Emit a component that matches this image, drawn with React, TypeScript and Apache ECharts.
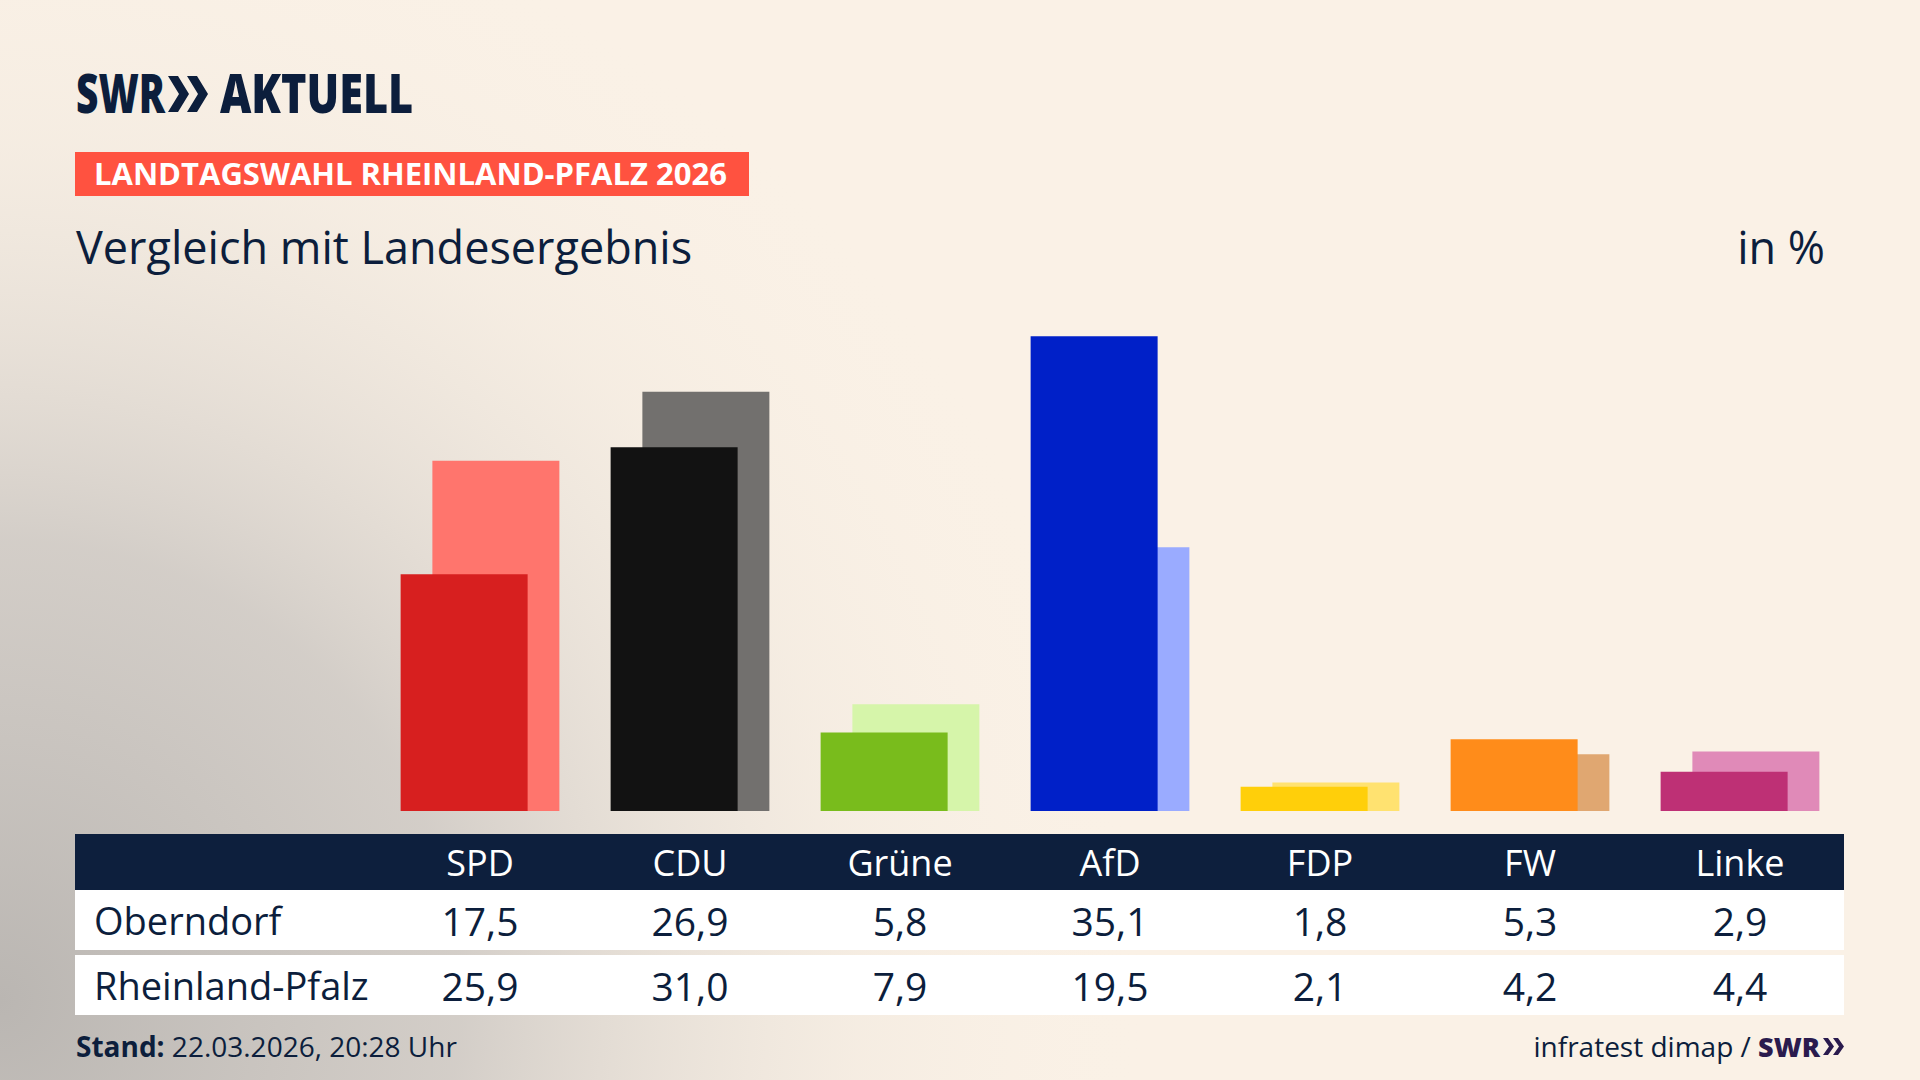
import React, { useEffect, useRef } from "react";
import * as echarts from "echarts";

const parties = ["SPD", "CDU", "Grüne", "AfD", "FDP", "FW", "Linke"];
const rowNames = ["Oberndorf", "Rheinland-Pfalz"];
const oberndorf = [17.5, 26.9, 5.8, 35.1, 1.8, 5.3, 2.9];
const rheinlandPfalz = [25.9, 31.0, 7.9, 19.5, 2.1, 4.2, 4.4];
const darkColors = ["#D71F1F", "#121212", "#79BC1C", "#0020C8", "#FFCF0A", "#FF8C1A", "#BE3075"];
const lightColors = ["#FF756D", "#72706E", "#D6F5AA", "#9AABFF", "#FFE270", "#E0A771", "#E08AB8"];

const brand = "SWR";
const brandTitle = "AKTUELL";
const banner = "LANDTAGSWAHL RHEINLAND-PFALZ 2026";
const subtitle = "Vergleich mit Landesergebnis";
const unit = "in %";
const standLabel = "Stand:";
const standValue = "22.03.2026, 20:28 Uhr";
const source = "infratest dimap / ";

const NAVY = "#0C1E3C";
const FONT = '"Open Sans", "Noto Sans", sans-serif';

const fmt = (v: number) => v.toFixed(1).replace(".", ",");

function chevron(x0: number, y0: number, h: number, w: number, t: number) {
  return [
    [x0, y0],
    [x0 + t, y0],
    [x0 + w, y0 + h / 2],
    [x0 + t, y0 + h],
    [x0, y0 + h],
    [x0 + w - t, y0 + h / 2],
  ];
}

function txt(x: number, y: number, text: string, opts: any = {}) {
  const { scaleX, z, ...style } = opts;
  return {
    type: "text",
    x,
    y,
    scaleX: scaleX ?? 1,
    z: z ?? 5,
    silent: true,
    style: {
      text,
      fill: NAVY,
      fontFamily: FONT,
      fontSize: 28,
      align: "left",
      verticalAlign: "middle",
      ...style,
    },
  };
}

export default function App() {
  const ref = useRef<HTMLDivElement>(null);
  useEffect(() => {
    document.body.style.margin = "0";
    document.body.style.overflow = "hidden";
    const chart = echarts.init(ref.current!, null, { renderer: "svg" });

    const baseAxis = {
      type: "category",
      data: parties,
      axisLine: { show: false },
      axisTick: { show: false },
      splitLine: { show: false },
      z: 10,
    };

    const option: any = {
      animation: false,
      backgroundColor: "#FAF1E6",
      grid: { left: 375, right: 75, top: 270, bottom: 269 },
      xAxis: [
        {
          ...baseAxis,
          axisLabel: {
            interval: 0,
            color: "#FFFFFF",
            fontSize: 36,
            fontFamily: FONT,
            margin: 51,
            verticalAlign: "middle",
          },
        },
        {
          ...baseAxis,
          position: "bottom",
          axisLabel: {
            interval: 0,
            color: NAVY,
            fontSize: 39,
            fontFamily: FONT,
            margin: 109,
            verticalAlign: "middle",
            formatter: (_v: string, i: number) => fmt(oberndorf[i]),
          },
        },
        {
          ...baseAxis,
          position: "bottom",
          axisLabel: {
            interval: 0,
            color: NAVY,
            fontSize: 39,
            fontFamily: FONT,
            margin: 174,
            verticalAlign: "middle",
            formatter: (_v: string, i: number) => fmt(rheinlandPfalz[i]),
          },
        },
      ],
      yAxis: { type: "value", min: 0, max: 40, show: false },
      series: [
        {
          name: rowNames[0],
          type: "bar",
          xAxisIndex: 0,
          data: oberndorf,
          barWidth: 127,
          barGap: "-75%",
          z: 3,
          itemStyle: { color: (p: any) => darkColors[p.dataIndex] },
        },
        {
          name: rowNames[1],
          type: "bar",
          xAxisIndex: 0,
          data: rheinlandPfalz,
          barWidth: 127,
          barGap: "-75%",
          z: 2,
          itemStyle: { color: (p: any) => lightColors[p.dataIndex] },
        },
      ],
      graphic: [
        {
          type: "rect",
          z: -10,
          silent: true,
          shape: { x: 0, y: 0, width: 1920, height: 1080 },
          style: {
            fill: new echarts.graphic.RadialGradient(
              0,
              1000,
              1150,
              [
                { offset: 0, color: "rgba(186,182,178,1)" },
                { offset: 0.4, color: "rgba(206,201,196,0.88)" },
                { offset: 0.75, color: "rgba(238,230,220,0.4)" },
                { offset: 1, color: "rgba(250,241,230,0)" },
              ],
              true
            ),
          },
        },
        // table backgrounds
        { type: "rect", z: -5, silent: true, shape: { x: 75, y: 834, width: 1769, height: 56 }, style: { fill: "#0D1F3D" } },
        { type: "rect", z: -5, silent: true, shape: { x: 75, y: 890, width: 1769, height: 60 }, style: { fill: "#FFFFFF" } },
        { type: "rect", z: -5, silent: true, shape: { x: 75, y: 955, width: 1769, height: 60 }, style: { fill: "#FFFFFF" } },
        txt(94, 920, rowNames[0], { fontSize: 38 }),
        txt(94, 985, rowNames[1], { fontSize: 38 }),
        // logo
        txt(76, 92, brand, { fontSize: 54, fontWeight: 800, scaleX: 0.72 }),
        { type: "polygon", z: 5, silent: true, shape: { points: chevron(168, 76, 36, 21, 10) }, style: { fill: NAVY } },
        { type: "polygon", z: 5, silent: true, shape: { points: chevron(187, 76, 36, 21, 10) }, style: { fill: NAVY } },
        txt(220, 92, brandTitle, { fontSize: 54, fontWeight: 800, scaleX: 0.8 }),
        // banner
        { type: "rect", z: 4, silent: true, shape: { x: 75, y: 152, width: 674, height: 44 }, style: { fill: "#FF5240" } },
        txt(94, 173, banner, { fontSize: 31, fontWeight: "bold", fill: "#FFFFFF" }),
        // subtitle
        txt(76, 246, subtitle, { fontSize: 45 }),
        txt(1825, 246, unit, { fontSize: 45, align: "right" }),
        // footer
        {
          type: "text",
          x: 76,
          y: 1046,
          z: 5,
          silent: true,
          style: {
            text: "{b|" + standLabel + "} " + standValue,
            fill: NAVY,
            fontFamily: FONT,
            fontSize: 28,
            align: "left",
            verticalAlign: "middle",
            rich: { b: { fontWeight: "bold", fill: NAVY, fontFamily: FONT, fontSize: 28 } },
          },
        },
        {
          type: "text",
          x: 1820,
          y: 1046,
          z: 5,
          silent: true,
          style: {
            text: source + "{s|" + brand + "}",
            fill: NAVY,
            fontFamily: FONT,
            fontSize: 28,
            align: "right",
            verticalAlign: "middle",
            rich: { s: { fontWeight: 800, fill: "#2A1B4E", fontFamily: FONT, fontSize: 27 } },
          },
        },
        { type: "polygon", z: 5, silent: true, shape: { points: chevron(1823, 1038, 17, 11, 5) }, style: { fill: "#2A1B4E" } },
        { type: "polygon", z: 5, silent: true, shape: { points: chevron(1833, 1038, 17, 11, 5) }, style: { fill: "#2A1B4E" } },
      ],
    };

    chart.setOption(option);
    return () => chart.dispose();
  }, []);
  return <div ref={ref} style={{ width: 1920, height: 1080 }} />;
}
